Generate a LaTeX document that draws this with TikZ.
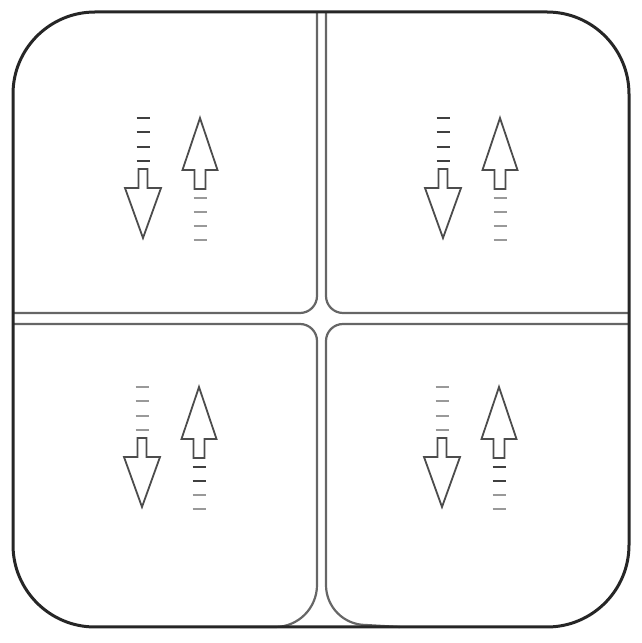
\documentclass[tikz,border=0pt]{standalone}
\begin{document}
\begin{tikzpicture}[x=1pt,y=1pt,
    frame/.style={line width=3pt,black!85},
    channel/.style={line width=2.2pt,black!60},
    arrowline/.style={line width=1.8pt,black!70,line join=miter},
    dk/.style={line width=2.2pt,black!75},
    lt/.style={line width=2.2pt,black!40}]
        \useasboundingbox (0,0) rectangle (641,643);
        \coordinate (tl) at (143,465);
        \coordinate (tr) at (443,465);
        \coordinate (bl) at (142,196);
        \coordinate (br) at (442,196);
        % quadrant edges
        \draw[channel] (317,631) -- (317,347) arc[start angle=0,end angle=-90,radius=17] -- (13,330);
        \draw[channel] (326,631) -- (326,347) arc[start angle=180,end angle=270,radius=17] -- (629,330);
        \draw[channel] (13,319) -- (300,319) arc[start angle=90,end angle=0,radius=17] -- (317,58) arc[start angle=0,end angle=-90,radius=42] -- (240,16);
        \draw[channel] (629,319) -- (343,319) arc[start angle=90,end angle=180,radius=17] -- (326,58) arc[start angle=180,end angle=270,radius=40] -- (400,16);
        \draw[frame,rounded corners=82pt] (13,16) rectangle (629,631);
        % arrows
        \foreach \q/\dc/\ua/\ub in {tl/dk/lt/lt, tr/dk/lt/lt, bl/lt/dk/lt, br/lt/dk/lt} {
          \begin{scope}[shift={(\q)}]
            \draw[arrowline] (-4.5,9) -- (4.5,9) -- (4.5,-10) -- (18,-10) -- (0,-60) -- (-18,-10) -- (-4.5,-10) -- cycle;
            \draw[arrowline] (57,60) -- (74.5,8) -- (62.5,8) -- (62.5,-11) -- (51.5,-11) -- (51.5,8) -- (39.5,8) -- cycle;
            \foreach \d in {60,46,31,17}
              \draw[\dc] (-6.5,\d) -- (6.5,\d);
            \foreach \d in {-20,-34}
              \draw[\ua] (50.5,\d) -- (63.5,\d);
            \foreach \d in {-48,-62}
              \draw[\ub] (50.5,\d) -- (63.5,\d);
          \end{scope}
        }
      \end{tikzpicture}
\end{document}
